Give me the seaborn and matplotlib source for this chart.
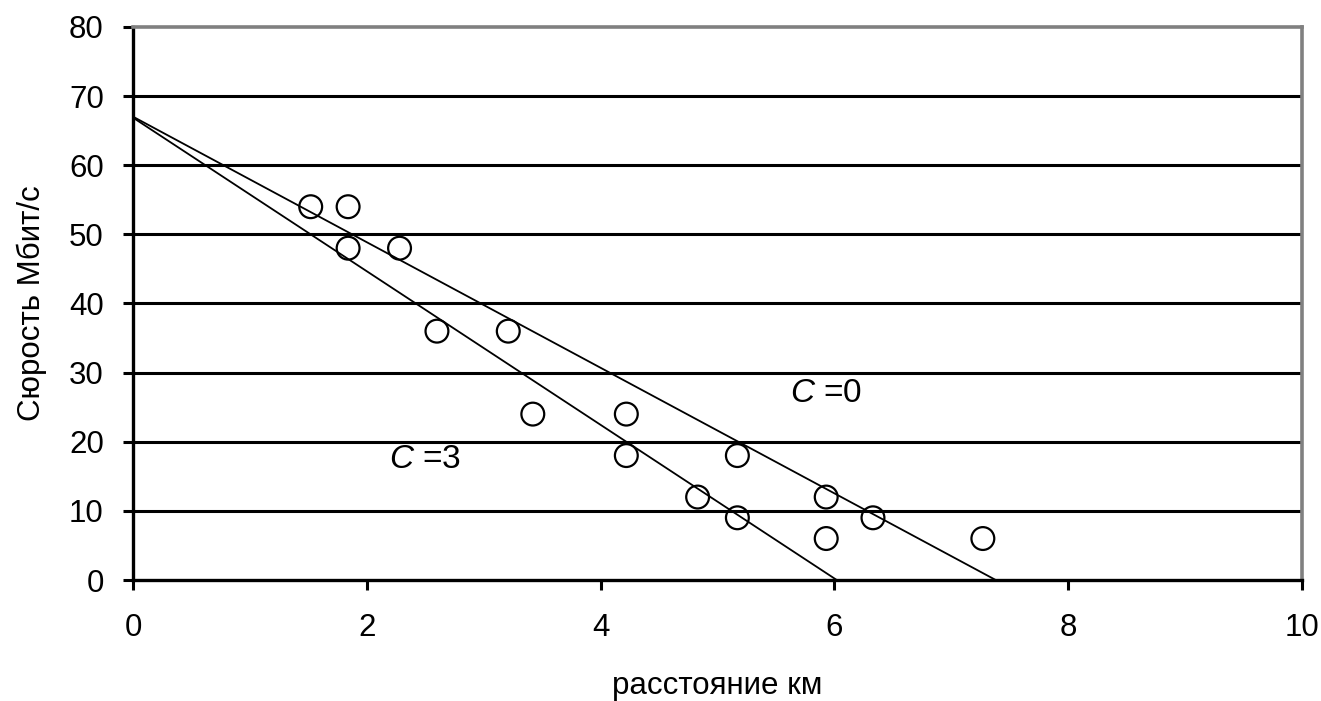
import numpy as np
import pandas as pd
import matplotlib
matplotlib.use('Agg')
import matplotlib.pyplot as plt
import seaborn as sns

# data
speeds = [54, 48, 36, 24, 18, 12, 9, 6]
dist_c3 = [1.52, 1.84, 2.60, 3.42, 4.22, 4.83, 5.17, 5.93]
dist_c0 = [1.84, 2.28, 3.21, 4.22, 5.17, 5.93, 6.33, 7.27]
series_names = ['C=3', 'C=0']
x_ticks = [0, 2, 4, 6, 8, 10]
y_ticks = [0, 10, 20, 30, 40, 50, 60, 70, 80]

df = pd.DataFrame({
    'dist': dist_c3 + dist_c0,
    'speed': speeds + speeds,
    'series': [series_names[0]] * len(dist_c3) + [series_names[1]] * len(dist_c0),
})

sns.set_theme(style='white')
plt.rcParams['font.family'] = ['Liberation Sans', 'DejaVu Sans']
plt.rcParams['mathtext.fontset'] = 'custom'
plt.rcParams['mathtext.it'] = 'Liberation Sans:italic'
plt.rcParams['mathtext.rm'] = 'Liberation Sans'
plt.rcParams['text.color'] = 'black'
plt.rcParams['axes.labelcolor'] = 'black'
plt.rcParams['xtick.color'] = 'black'
plt.rcParams['ytick.color'] = 'black'

fig = plt.figure(figsize=(13.21, 7.01), dpi=100)
ax = fig.add_axes([0.1007, 0.1726, 0.8849, 0.7889])

# horizontal grid
for yv in y_ticks[1:-1]:
    ax.axhline(yv, color='black', lw=2.2, zorder=1)

# linear trend lines, extended back to x=0 and down to y=0
for name, xs in zip(series_names, [dist_c3, dist_c0]):
    k, b = np.polyfit(xs, speeds, 1)
    x_end = -b / k
    ax.plot([0, x_end], [b, 0], color='black', lw=1.3, zorder=3)

sns.scatterplot(data=df, x='dist', y='speed', hue='series',
                palette=['black', 'black'], marker='o', s=270,
                facecolor='none', edgecolor='black', linewidth=1.6,
                legend=False, ax=ax, zorder=4)
for coll in ax.collections:
    coll.set_facecolor('none')
    coll.set_edgecolor('black')

ax.text(5.93, 27, '$C$ =0', fontsize=24, ha='center', va='center')
ax.text(2.5, 17.4, '$C$ =3', fontsize=24, ha='center', va='center')

ax.set_xlim(0, 10)
ax.set_ylim(0, 80)
ax.set_xticks(x_ticks)
ax.set_yticks(y_ticks)
ax.tick_params(axis='both', which='both', direction='out', length=7,
               width=2.2, color='black', labelsize=22.5, labelcolor='black')
ax.tick_params(axis='x', pad=17)
ax.tick_params(axis='y', pad=14)
ax.tick_params(left=True, bottom=True)

for side in ['left', 'bottom']:
    ax.spines[side].set_color('black')
    ax.spines[side].set_linewidth(2.4)
for side in ['top', 'right']:
    ax.spines[side].set_color('#808080')
    ax.spines[side].set_linewidth(2.6)
    ax.spines[side].set_visible(True)

ax.set_xlabel('расстояние км', fontsize=22.5, labelpad=20)
ax.set_ylabel('Сюрость Мбит/с', fontsize=22.5, labelpad=16)

fig.savefig('out.png', dpi=100)
